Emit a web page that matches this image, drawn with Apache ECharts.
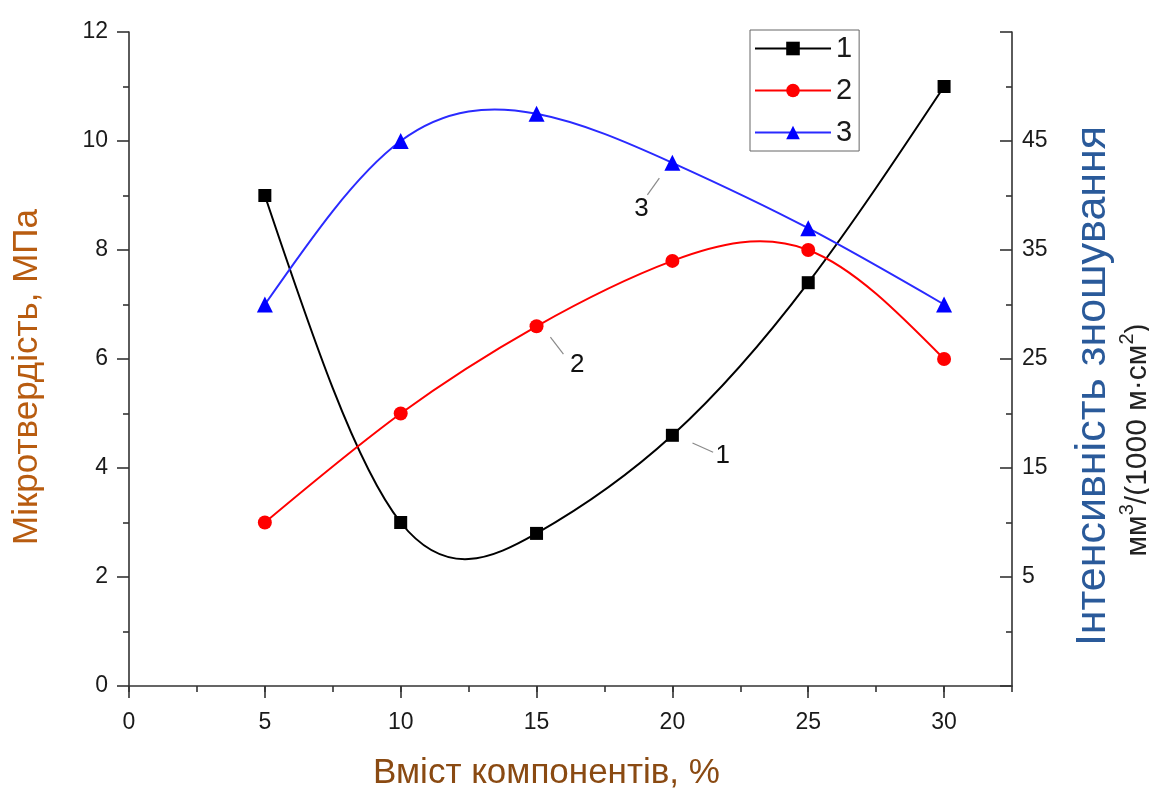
<!DOCTYPE html>
<html>
<head>
<meta charset="utf-8">
<title>Мікротвердість та інтенсивність зношування</title>
<script src="https://cdn.jsdelivr.net/npm/echarts@6/dist/echarts.min.js"></script>
<style>
  html, body { margin: 0; padding: 0; background: #ffffff; }
  #chart { width: 1149px; height: 790px; }
</style>
</head>
<body>
<div id="chart"></div>
<script>
// Component content, %
const contentPct = [5, 10, 15, 20, 25, 30];
// Measured curves (left-axis units)
const curve1 = [9, 3, 2.8, 4.6, 7.4, 11];
const curve2 = [3, 5, 6.6, 7.8, 8, 6];
const curve3 = [7, 10, 10.5, 9.6, 8.4, 7];
const seriesNames = ['1', '2', '3'];

// Tick labels
const xTickValues = [0, 5, 10, 15, 20, 25, 30];
const rightTickLabels = [5, 15, 25, 35, 45];

// Curve callouts: number text, text anchor and leader line ends (axis units)
const calloutText = ['1', '2', '3'];
const calloutAt = [[21.85, 4.22], [16.5, 5.9], [18.86, 8.76]];
const leaderFrom = [[20.74, 4.46], [15.51, 6.40], [19.52, 9.32]];
const leaderTo = [[21.5, 4.29], [15.99, 6.09], [19.08, 9.01]];

const FONT = '"Liberation Sans", Arial, sans-serif';
const AXIS_COLOR = '#333333';
const TEXT_COLOR = '#1a1a1a';

const pairs = (ys) => contentPct.map((x, i) => [x, ys[i]]);

// Natural cubic spline through the points; returns the slope at every knot.
function splineSlopes(xs, ys) {
  const n = xs.length;
  const h = [];
  for (let i = 0; i < n - 1; i++) h.push(xs[i + 1] - xs[i]);
  const M = new Array(n).fill(0);
  if (n > 2) {
    const a = [], b = [], c = [], d = [];
    for (let i = 1; i < n - 1; i++) {
      a.push(h[i - 1]);
      b.push(2 * (h[i - 1] + h[i]));
      c.push(h[i]);
      d.push(6 * ((ys[i + 1] - ys[i]) / h[i] - (ys[i] - ys[i - 1]) / h[i - 1]));
    }
    const m = b.length;
    for (let i = 1; i < m; i++) {
      const w = a[i] / b[i - 1];
      b[i] -= w * c[i - 1];
      d[i] -= w * d[i - 1];
    }
    const sol = new Array(m);
    sol[m - 1] = d[m - 1] / b[m - 1];
    for (let i = m - 2; i >= 0; i--) sol[i] = (d[i] - c[i] * sol[i + 1]) / b[i];
    for (let i = 0; i < m; i++) M[i + 1] = sol[i];
  }
  const slopes = [];
  for (let i = 0; i < n - 1; i++) {
    slopes.push((ys[i + 1] - ys[i]) / h[i] - h[i] * (2 * M[i] + M[i + 1]) / 6);
  }
  const k = n - 2;
  slopes.push((ys[k + 1] - ys[k]) / h[k] + h[k] * (M[k] + 2 * M[k + 1]) / 6);
  return slopes;
}

// Spline curve drawn through the axis scales as one bezier path
function splineSeries(ys, color) {
  const slopes = splineSlopes(contentPct, ys);
  return {
    type: 'custom',
    xAxisIndex: 0,
    yAxisIndex: 0,
    z: 1,
    silent: true,
    data: pairs(ys),
    encode: { x: 0, y: 1 },
    renderItem: (params, api) => {
      if (params.dataIndex !== 0) return null;
      const n = contentPct.length;
      const p0 = api.coord([contentPct[0], ys[0]]);
      let d = 'M' + p0[0] + ' ' + p0[1];
      for (let i = 0; i < n - 1; i++) {
        const h = contentPct[i + 1] - contentPct[i];
        const c1 = api.coord([contentPct[i] + h / 3, ys[i] + slopes[i] * h / 3]);
        const c2 = api.coord([contentPct[i + 1] - h / 3, ys[i + 1] - slopes[i + 1] * h / 3]);
        const p = api.coord([contentPct[i + 1], ys[i + 1]]);
        d += ' C' + c1[0] + ' ' + c1[1] + ' ' + c2[0] + ' ' + c2[1] + ' ' + p[0] + ' ' + p[1];
      }
      return {
        type: 'path',
        shape: { pathData: d },
        style: { stroke: color, lineWidth: 2, fill: null, lineJoin: 'round', lineCap: 'round' }
      };
    },
    animation: false
  };
}

// Markers (the connecting curve is drawn by the spline series)
const markerSeries = (name, ys, symbol, size, markerColor) => ({
  name: name,
  type: 'line',
  xAxisIndex: 0,
  yAxisIndex: 0,
  z: 3,
  data: pairs(ys),
  symbol: symbol,
  symbolSize: size,
  showSymbol: true,
  lineStyle: { opacity: 0 },
  itemStyle: { color: markerColor, borderWidth: 0 },
  emphasis: { disabled: true },
  animation: false
});

const lineColors = ['#000000', '#ff0000', '#2a2aff'];

const chart = echarts.init(document.getElementById('chart'), null, { renderer: 'canvas' });

const option = {
  animation: false,
  backgroundColor: '#ffffff',
  textStyle: { fontFamily: FONT },
  grid: {
    left: 129, right: 137, top: 32, bottom: 104,
    containLabel: false,
    outerBoundsMode: 'none'
  },
  legend: {
    data: seriesNames.map((nm, i) => ({
      name: nm,
      lineStyle: { opacity: 1, width: 2, color: lineColors[i] }
    })),
    orient: 'vertical',
    left: 750,
    top: 30,
    itemWidth: 76,
    itemHeight: 17,
    itemGap: 13,
    padding: [4, 7, 4, 4],
    borderColor: '#666666',
    borderWidth: 1,
    selectedMode: false,
    textStyle: { fontSize: 29, color: TEXT_COLOR, fontFamily: FONT }
  },
  xAxis: [
    {
      type: 'value',
      min: 0, max: 32.5, interval: 5,
      position: 'bottom',
      name: 'Вміст компонентів, %',
      nameLocation: 'middle',
      nameGap: 70,
      nameTextStyle: { fontSize: 35, color: '#8a4a12', fontFamily: FONT, padding: [0, 48, 0, 0] },
      axisLine: { show: true, onZero: false, lineStyle: { color: AXIS_COLOR, width: 1.6 } },
      axisTick: { show: true, length: 12, customValues: xTickValues, lineStyle: { color: AXIS_COLOR, width: 1.6 } },
      axisLabel: {
        show: true, margin: 25, fontSize: 23, color: TEXT_COLOR, fontFamily: FONT,
        customValues: xTickValues,
        formatter: (v) => (xTickValues.indexOf(v) >= 0 ? String(v) : '')
      },
      splitLine: { show: false }
    },
    {
      // minor ticks every 2.5 %
      type: 'value',
      min: 0, max: 32.5, interval: 2.5,
      position: 'bottom',
      axisLine: { show: false, onZero: false },
      axisTick: { show: true, length: 6, lineStyle: { color: AXIS_COLOR, width: 1.6 } },
      axisLabel: { show: false },
      splitLine: { show: false }
    }
  ],
  yAxis: [
    {
      type: 'value',
      min: 0, max: 12, interval: 2,
      position: 'left',
      name: 'Мікротвердість, МПа',
      nameLocation: 'middle',
      nameGap: 84,
      nameTextStyle: { fontSize: 35, color: '#b85c10', fontFamily: FONT, padding: [0, 36, 0, 0] },
      axisLine: { show: true, onZero: false, lineStyle: { color: AXIS_COLOR, width: 1.6 } },
      axisTick: { show: true, length: 12, lineStyle: { color: AXIS_COLOR, width: 1.6 } },
      minorTick: { show: true, splitNumber: 2, length: 6, lineStyle: { color: AXIS_COLOR, width: 1.6 } },
      axisLabel: { show: true, margin: 21, fontSize: 23, color: TEXT_COLOR, fontFamily: FONT },
      splitLine: { show: false },
      minorSplitLine: { show: false }
    },
    {
      type: 'value',
      min: -5, max: 55, interval: 10,
      position: 'right',
      axisLine: { show: true, onZero: false, lineStyle: { color: AXIS_COLOR, width: 1.6 } },
      axisTick: { show: true, inside: true, length: 12, lineStyle: { color: AXIS_COLOR, width: 1.6 } },
      minorTick: { show: true, splitNumber: 2, length: 6, lineStyle: { color: AXIS_COLOR, width: 1.6 } },
      axisLabel: {
        show: true, margin: 10, fontSize: 23, color: TEXT_COLOR, fontFamily: FONT,
        formatter: (v) => (rightTickLabels.indexOf(v) >= 0 ? String(v) : '')
      },
      splitLine: { show: false },
      minorSplitLine: { show: false }
    }
  ],
  series: [
    splineSeries(curve1, lineColors[0]),
    splineSeries(curve2, lineColors[1]),
    splineSeries(curve3, lineColors[2]),
    markerSeries(seriesNames[0], curve1, 'rect', 13, '#000000'),
    markerSeries(seriesNames[1], curve2, 'circle', 14, '#ff0000'),
    markerSeries(seriesNames[2], curve3, 'triangle', 16, '#0000ff'),
    {
      name: 'leaders',
      type: 'lines',
      coordinateSystem: 'cartesian2d',
      xAxisIndex: 0,
      yAxisIndex: 0,
      silent: true,
      data: leaderFrom.map((p, i) => ({ coords: [p, leaderTo[i]] })),
      lineStyle: { color: '#8a8a8a', width: 1.2, opacity: 1 },
      animation: false
    },
    {
      name: 'callouts',
      type: 'scatter',
      xAxisIndex: 0,
      yAxisIndex: 0,
      silent: true,
      z: 4,
      symbolSize: 1,
      itemStyle: { color: 'rgba(0,0,0,0)' },
      data: calloutAt.map((p, i) => ({ value: p, label: { formatter: calloutText[i] } })),
      label: { show: true, position: 'inside', fontSize: 26, color: '#111111', opacity: 1, fontFamily: FONT },
      animation: false
    }
  ],
  graphic: [
    {
      type: 'text',
      x: 1093, y: 386,
      rotation: Math.PI / 2,
      silent: true,
      style: {
        text: 'Інтенсивність зношування',
        fontSize: 43, fontFamily: FONT, fill: '#2a5a9a',
        align: 'center', verticalAlign: 'middle'
      }
    },
    {
      type: 'text',
      x: 1135, y: 440,
      rotation: Math.PI / 2,
      silent: true,
      style: {
        text: '{a|мм}{s|3}{a|/(1000 м·см}{s|2}{a|)}',
        fontFamily: FONT, fill: '#222222',
        align: 'center', verticalAlign: 'middle',
        rich: {
          a: { fontSize: 30, fontFamily: FONT, fill: '#222222', verticalAlign: 'bottom', lineHeight: 36 },
          s: { fontSize: 20, fontFamily: FONT, fill: '#222222', verticalAlign: 'top', lineHeight: 36 }
        }
      }
    }
  ]
};

chart.setOption(option);
</script>
</body>
</html>
